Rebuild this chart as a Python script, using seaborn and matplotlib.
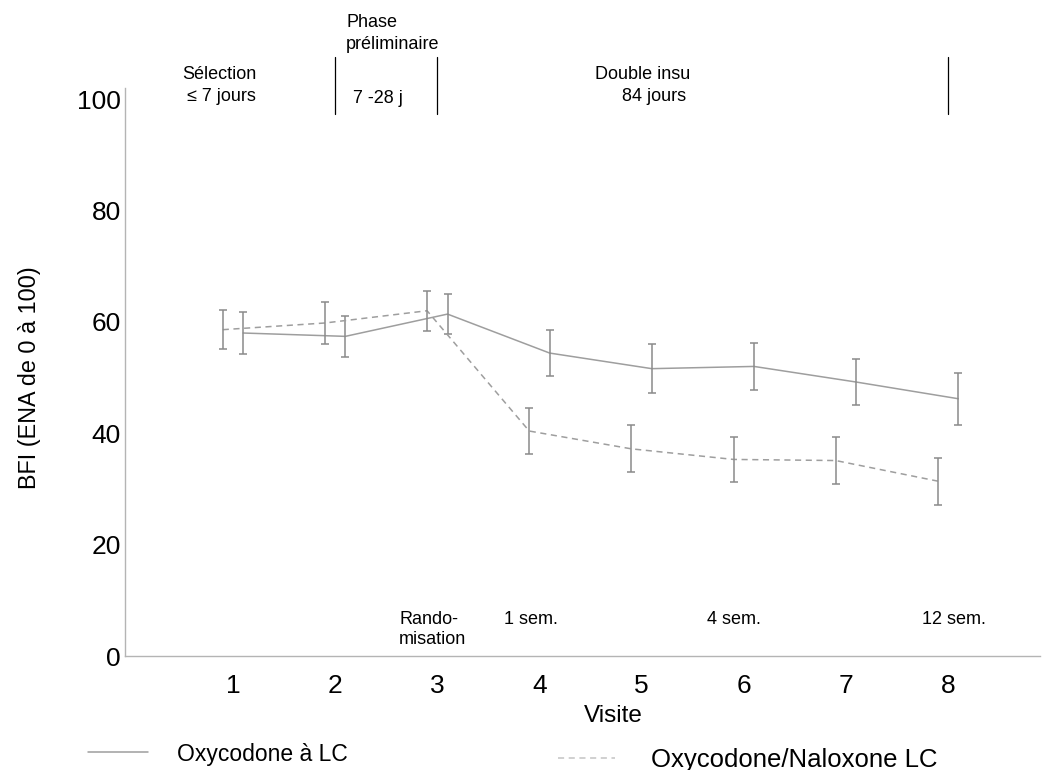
import numpy as np
import pandas as pd
import matplotlib
matplotlib.use("Agg")
import matplotlib.pyplot as plt
import seaborn as sns

# Values
visits = [1, 2, 3, 4, 5, 6, 7, 8]
oxy_mean = [58.0, 57.4, 61.4, 54.4, 51.6, 52.0, 49.2, 46.2]
oxy_err = [3.7, 3.7, 3.65, 4.2, 4.4, 4.2, 4.2, 4.7]
oxn_mean = [58.6, 59.8, 62.0, 40.4, 37.2, 35.3, 35.1, 31.4]
oxn_err = [3.5, 3.8, 3.6, 4.1, 4.2, 4.05, 4.2, 4.2]
series_names = ["Oxycodone à LC", "Oxycodone/Naloxone LC"]
y_ticks = [0, 20, 40, 60, 80, 100]

sns.set_style("white")
plt.rcParams["font.family"] = ["Liberation Sans", "DejaVu Sans"]
plt.rcParams["text.color"] = "black"
plt.rcParams["axes.labelcolor"] = "black"

line_col = "#9e9e9e"
err_col = "#8a8a8a"
axis_col = "#b4b4b4"

df = pd.DataFrame({
    "visit": visits * 2,
    "bfi": oxy_mean + oxn_mean,
    "err": oxy_err + oxn_err,
    "groupe": [series_names[0]] * 8 + [series_names[1]] * 8,
})
# small horizontal shift so the error bars do not overlap
df["xpos"] = df["visit"] + np.where(df["groupe"] == series_names[0], 0.1, -0.1)

fig = plt.figure(figsize=(10.45, 7.7), dpi=100)
ax = fig.add_axes([125 / 1045, 1 - 656 / 770, 915 / 1045, (656 - 88) / 770])

styles = {series_names[0]: "-", series_names[1]: (0, (4, 3))}
for name in series_names:
    sub = df[df["groupe"] == name]
    sns.lineplot(data=sub, x="xpos", y="bfi", ax=ax, color=line_col, lw=1.1,
                 linestyle=styles[name], label=name, errorbar=None)
    ax.errorbar(sub["xpos"], sub["bfi"], yerr=sub["err"], fmt="none",
                ecolor=err_col, elinewidth=1.1, capsize=2.7, capthick=1.1)

ax.set_xlim(-0.057, 8.9)
ax.set_ylim(0, 102)
ax.set_xticks(visits)
ax.set_yticks(y_ticks)
ax.tick_params(axis="both", length=0, labelsize=19, colors="black")
ax.tick_params(axis="x", pad=13)
ax.tick_params(axis="y", pad=3)
for s in ["top", "right"]:
    ax.spines[s].set_visible(False)
for s in ["left", "bottom"]:
    ax.spines[s].set_color(axis_col)
    ax.spines[s].set_linewidth(1.0)

ax.set_xlabel("Visite", fontsize=17.5)
ax.xaxis.set_label_coords(0.534, -0.086)
ax.set_ylabel("BFI (ENA de 0 à 100)", fontsize=16.8)
ax.yaxis.set_label_coords(-0.092, 0.49)

# study phases above the plot
for xv in [2, 3, 8]:
    ax.plot([xv, xv], [97.3, 107.6], color="black", lw=0.9, clip_on=False)
small = dict(fontsize=13, clip_on=False)
ax.text(0.87, 104.5, "Sélection", ha="center", va="center", **small)
ax.text(0.89, 100.4, "≤ 7 jours", ha="center", va="center", **small)
ax.text(2.115, 113.7, "Phase", ha="left", va="center", **small)
ax.text(2.1, 109.9, "préliminaire", ha="left", va="center", **small)
ax.text(2.42, 100.2, "7 -28 j", ha="center", va="center", **small)
ax.text(5.01, 104.5, "Double insu", ha="center", va="center", **small)
ax.text(5.12, 100.4, "84 jours", ha="center", va="center", **small)

# timing notes inside the plot
ax.text(2.63, 6.5, "Rando-", ha="left", va="center", **small)
ax.text(2.62, 2.9, "misation", ha="left", va="center", **small)
ax.text(3.92, 6.5, "1 sem.", ha="center", va="center", **small)
ax.text(5.90, 6.5, "4 sem.", ha="center", va="center", **small)
ax.text(8.06, 6.5, "12 sem.", ha="center", va="center", **small)

# two separate legend entries below the axis, as in the original layout
handles, labels = ax.get_legend_handles_labels()
leg1 = ax.legend([handles[0]], [labels[0]], loc="center left",
                 bbox_to_anchor=(88 / 1045, 1 - 754 / 770),
                 bbox_transform=fig.transFigure, frameon=False, fontsize=16.5,
                 borderpad=0, borderaxespad=0, handlelength=2.6, handletextpad=1.3)
ax.add_artist(leg1)
leg2 = ax.legend([handles[1]], [labels[1]], loc="center left",
                 bbox_to_anchor=(558 / 1045, 1 - 760 / 770),
                 bbox_transform=fig.transFigure, frameon=False, fontsize=18.5,
                 borderpad=0, borderaxespad=0, handlelength=2.2, handletextpad=1.4)
leg2.get_lines()[0].set_color("#c4c4c4")

fig.savefig("out.png", dpi=100)
